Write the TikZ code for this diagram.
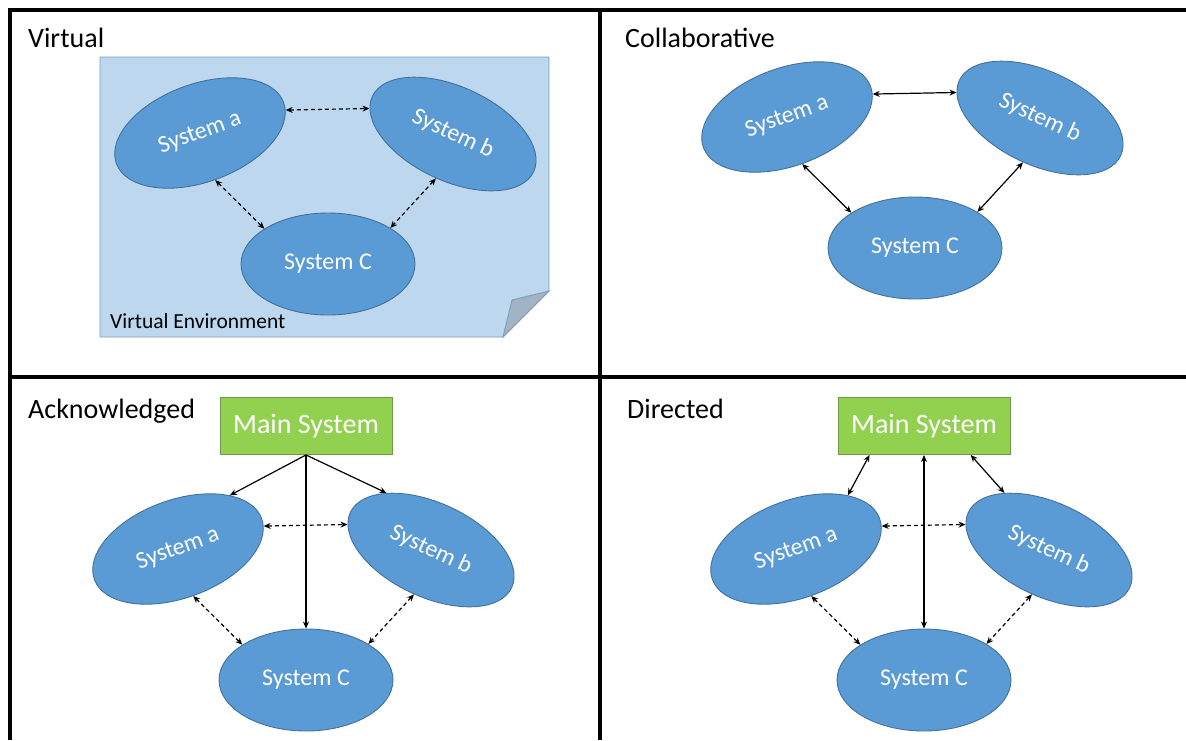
\documentclass[tikz,border=0pt]{standalone}
\usepackage{fontspec}
\setmainfont{Carlito}
\usetikzlibrary{shapes.geometric,arrows.meta,calc}
\definecolor{ellfill}{HTML}{5B9BD5}
\definecolor{ellborder}{HTML}{41719C}
\definecolor{boxfill}{HTML}{92D050}
\definecolor{boxborder}{HTML}{6E9A4A}
\definecolor{paperfill}{HTML}{BDD7EE}
\definecolor{paperborder}{HTML}{7F9DB9}
\definecolor{foldfill}{HTML}{A3B3C6}
\tikzset{
  sysell/.style={ellipse, draw=ellborder, fill=ellfill, text=white, inner sep=0pt,
    line width=0.9pt, font=\fontsize{24}{28}\selectfont},
  ella/.style={sysell, minimum width=178pt, minimum height=98pt, rotate=20},
  ellb/.style={sysell, minimum width=178pt, minimum height=94pt, rotate=-25},
  ellc/.style={sysell, minimum width=174pt, minimum height=102pt},
  mainbox/.style={rectangle, draw=boxborder, fill=boxfill, text=white, line width=0.9pt,
    minimum width=172pt, minimum height=57pt, inner sep=0pt, font=\fontsize{28}{32}\selectfont},
  qtitle/.style={anchor=base west, inner sep=0pt, font=\fontsize{28}{32}\selectfont},
  frame/.style={line width=4pt, black},
  conn/.style={line width=1.2pt, black, {Stealth[length=7pt,width=6pt]}-{Stealth[length=7pt,width=6pt]}},
  dconn/.style={conn, dash pattern=on 4pt off 3pt},
  oneway/.style={line width=1.2pt, black, -{Stealth[length=7pt,width=6pt]}},
}
\newcommand\SoSTrio[1]{%
  \node[ella] (#1a) at (0,0) {System a};
  \node[ellb] (#1b) at (253,1) {System b};
  \node[ellc] (#1c) at (128,131) {System C};
}
\begin{document}
\begin{tikzpicture}[x=1pt,y=-1pt]
\useasboundingbox (0,0) rectangle (1186,740);
% frame
\draw[frame] (8,10) -- (1186,10);
\draw[frame] (10,8) -- (10,740);
\draw[frame] (600,10) -- (600,740);
\draw[frame] (10,377) -- (1186,377);
% titles
\node[qtitle] (t1) at (28,47) {Virtual};
\node[qtitle] (t2) at (625,47) {Collaborative};
\node[qtitle] (t3) at (28,418) {Acknowledged};
\node[qtitle] (t4) at (627,418) {Directed};
% virtual environment paper
\draw[draw=paperborder, fill=paperfill, line width=0.9pt]
  (100,57) -- (549,57) -- (549,291) -- (503,337) -- (100,337) -- cycle;
\draw[draw=paperborder, fill=foldfill, line width=0.9pt]
  (549,291) -- (512,300) -- (503,337) -- cycle;
\node[anchor=base west, inner sep=0pt, font=\fontsize{21.5}{24}\selectfont] (venv) at (110,328) {Virtual Environment};
% Virtual
\begin{scope}[shift={(200,133)}]
  \SoSTrio{v}
\end{scope}
\draw[dconn] (va.-5) -- (vb.188);
\draw[dconn] (va.268) -- (vc.151);
\draw[dconn] (vb.-86) -- (vc.30);
% Collaborative
\begin{scope}[shift={(787,117)}]
  \SoSTrio{c}
\end{scope}
\draw[conn] (ca.-5) -- (cb.188);
\draw[conn] (ca.268) -- (cc.151);
\draw[conn] (cb.-86) -- (cc.30);
% Acknowledged
\begin{scope}[shift={(178,549)}]
  \SoSTrio{k}
  \node[mainbox] (km) at (128,-123) {Main System};
\end{scope}
\draw[oneway] (km.south) -- (ka.26);
\draw[oneway] (km.south) -- (kb.153);
\draw[oneway] (km.south) -- (kc.north);
\draw[dconn] (ka.-5) -- (kb.188);
\draw[dconn] (ka.268) -- (kc.151);
\draw[dconn] (kb.-86) -- (kc.30);
% Directed
\begin{scope}[shift={(796,549)}]
  \SoSTrio{d}
  \node[mainbox] (dm) at (128,-123) {Main System};
\end{scope}
\draw[conn] ($(dm.south west)!0.185!(dm.south east)$) -- (da.26);
\draw[conn] (dm.south) -- (dc.north);
\draw[conn] ($(dm.south west)!0.77!(dm.south east)$) -- (db.153);
\draw[dconn] (da.-5) -- (db.188);
\draw[dconn] (da.268) -- (dc.151);
\draw[dconn] (db.-86) -- (dc.30);
\end{tikzpicture}
\end{document}
